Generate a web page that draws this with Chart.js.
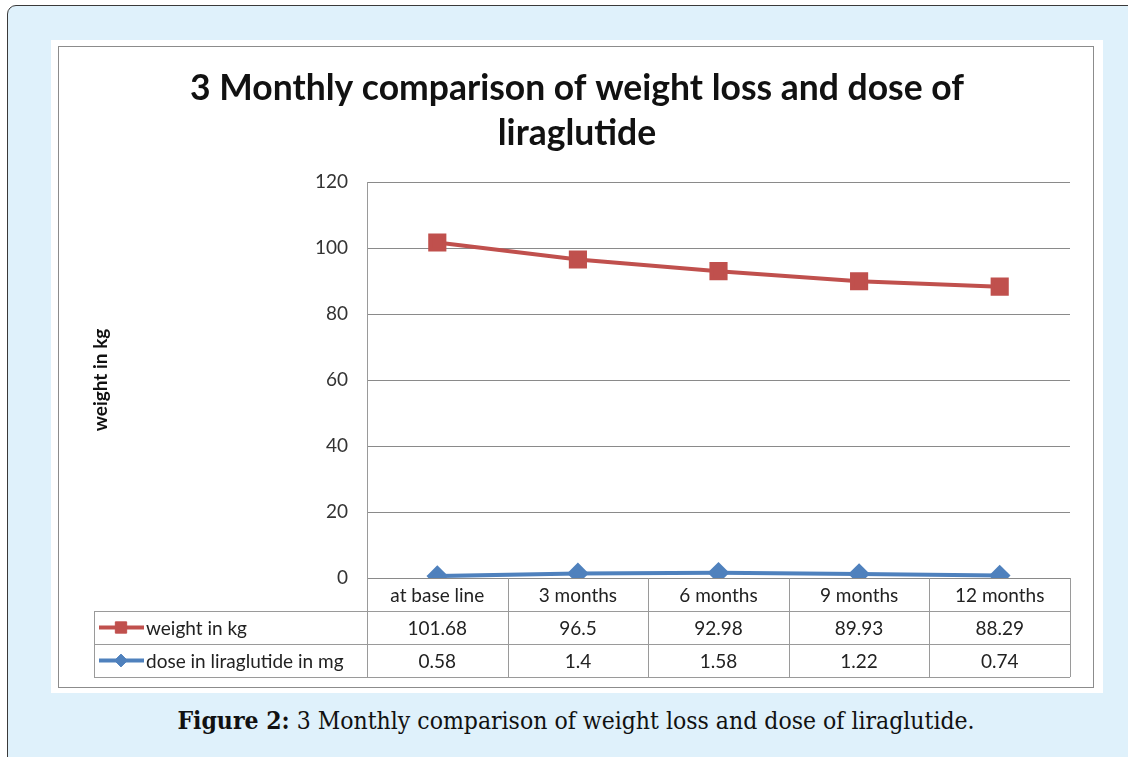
<!DOCTYPE html>
<html>
<head>
<meta charset="utf-8">
<script src="https://cdn.jsdelivr.net/npm/chart.js@4.4.1/dist/chart.umd.min.js"></script>
<style>
  html, body { margin: 0; padding: 0; background: #fff; }
  body { width: 1128px; height: 757px; position: relative; overflow: hidden; }
  .frame {
    position: absolute; left: 7px; top: 5px; width: 1140px; height: 770px;
    background: #dff1fb; border: 1px solid #3a3a3a; border-radius: 9px;
  }
  .sheet { position: absolute; left: 51px; top: 40px; width: 1052px; height: 653px; background: #fff; }
  .edge { position: absolute; left: 58px; top: 46px; width: 1034px; height: 640px; border: 1px solid #8c8c8c; }
  #chart { position: absolute; left: 51px; top: 40px; }
  .caption {
    position: absolute; left: 0; width: 1152px; top: 706px; text-align: center;
    font-family: "DejaVu Serif Condensed", "Liberation Serif", serif; font-size: 24.5px; color: #111;
  }
</style>
</head>
<body>
<div class="frame"></div>
<div class="sheet"></div>
<div class="edge"></div>
<canvas id="chart" width="1052" height="653"></canvas>
<div class="caption"><b>Figure 2:</b> 3 Monthly comparison of weight loss and dose of liraglutide.</div>

<script>
/* valores */
const categories = ['at base line', '3 months', '6 months', '9 months', '12 months'];
const weightKg   = [101.68, 96.5, 92.98, 89.93, 88.29];
const doseMg     = [0.58, 1.4, 1.58, 1.22, 0.74];
const yTicks     = [0, 20, 40, 60, 80, 100, 120];

const RED  = '#c0504d';
const BLUE = '#4f81bd';
const FONT = 'Lato, "Open Sans", sans-serif';

/* ── tabla de datos bajo el eje X (como en Excel) ─────────────────── */
const dataTable = {
  id: 'dataTable',
  afterDraw(chart) {
    const { ctx, chartArea: a, scales: { x } } = chart;
    const n = chart.data.labels.length;
    const colW = (a.right - a.left) / n;
    const rowH = 33;
    const keyW = 273;
    const top = a.bottom;
    const left = a.left - keyW;
    const px = v => Math.round(v) + 0.5;

    ctx.save();
    ctx.strokeStyle = '#9a9a9a';
    ctx.lineWidth = 1;
    ctx.beginPath();
    for (let r = 1; r <= 3; r++) {
      ctx.moveTo(left, px(top + r * rowH));
      ctx.lineTo(a.right, px(top + r * rowH));
    }
    ctx.moveTo(px(left), top + rowH);
    ctx.lineTo(px(left), top + 3 * rowH);
    for (let i = 0; i <= n; i++) {
      const xx = px(a.left + i * colW);
      ctx.moveTo(xx, i === 0 ? a.top : top);
      ctx.lineTo(xx, top + 3 * rowH);
    }
    ctx.stroke();

    ctx.fillStyle = '#222';
    ctx.font = '19px ' + FONT;
    ctx.textAlign = 'center';
    ctx.textBaseline = 'middle';
    chart.data.labels.forEach((lab, i) => {
      ctx.fillText(lab, x.getPixelForValue(i), top + rowH / 2 + 1);
    });

    chart.data.datasets.forEach((ds, r) => {
      const cy = top + rowH * (r + 1) + rowH / 2 + 1;
      ctx.textAlign = 'center';
      ds.data.forEach((v, i) => ctx.fillText(String(v), x.getPixelForValue(i), cy));
      // clave de la serie
      ctx.strokeStyle = ds.borderColor;
      ctx.lineWidth = 4;
      ctx.beginPath();
      ctx.moveTo(left + 5, cy - 1);
      ctx.lineTo(left + 50, cy - 1);
      ctx.stroke();
      ctx.fillStyle = ds.pointBackgroundColor;
      ctx.strokeStyle = ds.pointBorderColor;
      ctx.lineWidth = 1;
      Chart.helpers.drawPoint(ctx, { pointStyle: ds.pointStyle, radius: ds.pointRadius * 0.8, rotation: 0, borderWidth: 1 }, left + 27, cy - 1);
      ctx.fillStyle = '#222';
      ctx.textAlign = 'left';
      ctx.fillText(ds.label, left + 52, cy);
    });
    ctx.restore();
  }
};

new Chart(document.getElementById('chart').getContext('2d'), {
  type: 'line',
  data: {
    labels: categories,
    datasets: [{
      label: 'weight in kg',
      data: weightKg,
      borderColor: RED,
      backgroundColor: RED,
      pointBackgroundColor: RED,
      pointBorderColor: RED,
      borderWidth: 4,
      pointStyle: 'rect',
      pointRadius: 10,
      tension: 0,
    }, {
      label: 'dose in liraglutide in mg',
      data: doseMg,
      borderColor: BLUE,
      backgroundColor: BLUE,
      pointBackgroundColor: BLUE,
      pointBorderColor: BLUE,
      borderWidth: 4,
      pointStyle: 'rectRot',
      pointRadius: 8,
      tension: 0,
    }],
  },
  options: {
    responsive: false,
    animation: false,
    devicePixelRatio: 1,
    layout: { padding: { left: 33, top: 0, right: 33, bottom: 115 }, autoPadding: false },
    plugins: {
      legend: { display: false },
      tooltip: { enabled: false },
      title: {
        display: true,
        text: ['3 Monthly comparison of weight loss and dose of', 'liraglutide'],
        color: '#111',
        font: { family: FONT, size: 35.5, weight: 'bold', lineHeight: '45px' },
        padding: { top: 26, bottom: 26 },
      },
    },
    scales: {
      x: { display: false, offset: true },
      y: {
        min: 0,
        max: 120,
        afterBuildTicks: s => { s.ticks = yTicks.map(v => ({ value: v })); },
        afterFit: s => { s.width = 283; },
        grid: { color: '#8a8a8a', lineWidth: 1, drawTicks: false },
        border: { display: true, color: '#9a9a9a', width: 1 },
        ticks: { color: '#333', padding: 19, font: { family: FONT, size: 19 } },
        title: {
          display: true,
          text: 'weight in kg',
          color: '#111',
          font: { family: FONT, size: 19, weight: 'bold' },
          padding: { top: 5, bottom: 0 },
        },
      },
    },
  },
  plugins: [dataTable],
});
</script>
</body>
</html>
